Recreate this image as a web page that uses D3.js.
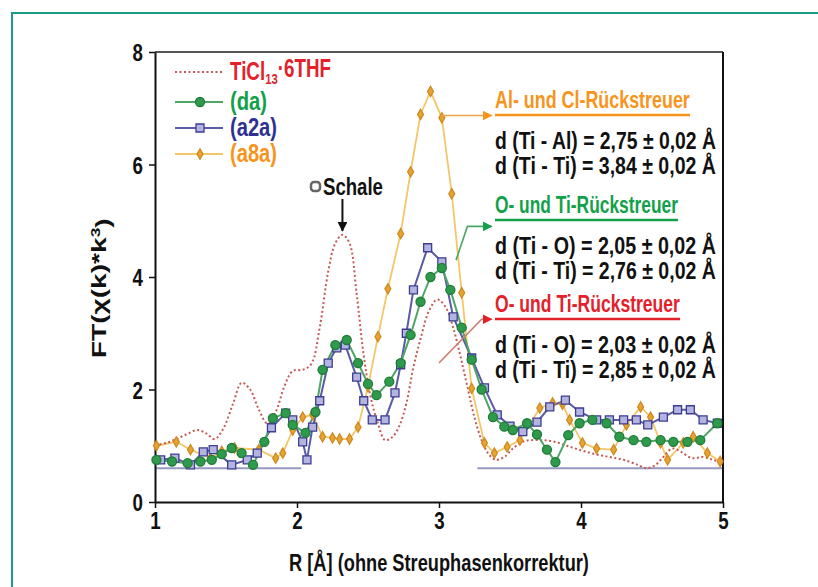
<!DOCTYPE html>
<html lang="de">
<head>
<meta charset="UTF-8">
<title>FT(χ(k)*k³) – Rückstreuer</title>
<script src="https://d3js.org/d3.v7.min.js"></script>
<style>
  body { margin: 0; background: #fff; }
  svg text { font-family: "Liberation Sans", Arial, "DejaVu Sans", sans-serif; font-weight: bold; }
  .tick text { font-size: 24px; fill: #111; }
</style>
</head>
<body>
<div id="chart"></div>
<script>
// ---- data ----
const xTicks = [1, 2, 3, 4, 5];
const yTicks = [0, 2, 4, 6, 8];

// TiCl13·6THF (dotted, no markers)
const ticlR = [1.00,1.08,1.15,1.22,1.30,1.36,1.42,1.48,1.55,1.61,1.67,1.73,1.79,1.85,1.91,1.97,2.04,2.10,2.16,2.22,2.27,2.32,2.37,2.42,2.47,2.52,2.57,2.62,2.67,2.72,2.77,2.82,2.87,2.93,2.99,3.05,3.10,3.15,3.20,3.25,3.30,3.35,3.40,3.46,3.52,3.60,3.70,3.80,3.90,4.00,4.10,4.20,4.30,4.40,4.46,4.52,4.58,4.64,4.70,4.78,4.86,4.93,5.00];
const ticlFT = [1.01,1.05,1.12,1.2,1.28,1.22,1.12,1.3,1.75,2.12,2.0,1.65,1.4,1.6,2.05,2.33,2.35,2.45,3.1,4.1,4.6,4.75,4.6,3.7,2.6,1.85,1.4,1.1,1.15,1.35,1.75,2.4,2.9,3.4,3.6,3.45,3.1,2.6,2.05,1.5,1.1,0.85,0.75,0.8,0.95,1.08,1.1,1.08,1.0,0.92,0.85,0.8,0.75,0.66,0.6,0.65,0.8,0.95,0.9,0.78,0.8,0.75,0.7];

// (da)
const daR = [1.01,1.12,1.23,1.32,1.40,1.47,1.54,1.61,1.69,1.77,1.83,1.92,1.97,2.06,2.13,2.18,2.27,2.35,2.43,2.50,2.56,2.65,2.73,2.80,2.87,2.94,3.02,3.08,3.16,3.23,3.30,3.38,3.46,3.52,3.62,3.69,3.76,3.82,3.91,3.99,4.08,4.18,4.27,4.37,4.46,4.56,4.65,4.75,4.84,4.96];
const daFT = [0.75,0.72,0.69,0.72,0.75,0.85,0.96,0.87,0.66,1.07,1.49,1.58,1.37,1.23,1.6,2.35,2.79,2.88,2.47,2.1,1.9,2.14,2.47,2.97,3.56,4.0,4.16,3.77,3.1,2.53,2.0,1.51,1.34,1.28,1.4,1.2,0.93,0.71,1.19,1.4,1.46,1.4,1.16,1.1,1.07,1.1,1.07,1.07,1.1,1.4];

// (a2a)
const a2aR = [1.04,1.14,1.25,1.34,1.41,1.54,1.65,1.72,1.82,1.92,1.97,2.04,2.07,2.11,2.16,2.22,2.28,2.34,2.42,2.47,2.53,2.62,2.69,2.73,2.77,2.82,2.92,3.02,3.10,3.23,3.32,3.41,3.50,3.59,3.69,3.78,3.89,3.99,4.11,4.20,4.30,4.39,4.47,4.58,4.68,4.77,4.86,4.96];
const a2aFT = [0.75,0.78,0.66,0.89,0.93,0.66,0.75,0.87,1.32,1.58,1.46,1.07,0.75,1.33,1.8,2.47,2.74,2.79,2.22,1.8,1.46,1.46,1.94,2.44,3.0,3.77,4.52,4.27,3.29,2.56,2.03,1.55,1.35,1.25,1.42,1.69,1.81,1.6,1.46,1.46,1.46,1.46,1.37,1.51,1.64,1.64,1.46,1.4];

// (a8a)
const a8aR = [1.01,1.15,1.25,1.39,1.47,1.56,1.73,1.85,1.90,1.97,2.04,2.11,2.18,2.25,2.30,2.37,2.43,2.50,2.57,2.64,2.73,2.80,2.87,2.94,3.02,3.09,3.16,3.23,3.32,3.39,3.48,3.57,3.71,3.80,3.87,3.92,4.01,4.11,4.23,4.32,4.42,4.49,4.56,4.61,4.72,4.79,4.89,4.98];
const a8aFT = [1.0,1.07,0.93,0.78,0.9,0.96,0.93,0.78,0.87,1.28,1.51,1.55,1.16,1.14,1.12,1.12,1.33,2.05,2.94,3.79,4.77,5.87,6.89,7.3,6.83,5.48,3.72,2.02,1.05,0.87,0.98,1.1,1.67,1.76,1.74,1.46,1.05,0.95,0.93,1.37,1.69,1.51,1.05,0.75,1.05,1.16,0.87,0.72];

// leader lines (data coordinates): [R, FT] points, last one is the arrow tip
const leaderAl = [[3.02, 6.87], [3.37, 6.87]];
const leaderDa = [[3.12, 4.3], [3.2, 4.9], [3.37, 4.9]];
const leaderTi = [[3.0, 2.47], [3.3, 3.25], [3.37, 3.25]];
const schaleAt = [2.32, 4.75];

// ---- layout ----
const W = 818, H = 587;
const margin = {top: 52, right: 95, bottom: 85, left: 155};

const svg = d3.select("#chart").append("svg")
  .attr("width", W).attr("height", H);

// squeeze text horizontally to a target width (the original uses a condensed face)
function fitWidth(sel, w) {
  sel.each(function () {
    const el = d3.select(this);
    const nat = this.getBBox().width;
    const k = w / nat;
    const ax = +el.attr("x") || 0;
    const pre = el.attr("transform") || "";
    el.attr("transform", `${pre} translate(${ax},0) scale(${k},1) translate(${-ax},0)`);
  });
}
function squeeze(sel, k) {
  sel.each(function () {
    const el = d3.select(this);
    const ax = +el.attr("x") || 0;
    const pre = el.attr("transform") || "";
    el.attr("transform", `${pre} translate(${ax},0) scale(${k},1) translate(${-ax},0)`);
  });
}

// teal page frame
svg.append("rect")
  .attr("x", 12).attr("y", 13)
  .attr("width", W).attr("height", H)
  .attr("fill", "none").attr("stroke", "#1b998b").attr("stroke-width", 2);

const x = d3.scaleLinear().domain([1, 5]).range([margin.left, W - margin.right]);
const y = d3.scaleLinear().domain([0, 8]).range([H - margin.bottom, margin.top]);

const colRed = "#c45a55", colGreen = "#2f9a4c", colBlue = "#3d3d91";

// faint baseline of the original plot
const base = svg.append("g").attr("stroke", "#9797c0").attr("stroke-width", 2);
[[1, 2.03], [3.27, 5]].forEach(s => {
  base.append("line")
    .attr("x1", x(s[0])).attr("x2", x(s[1]))
    .attr("y1", y(0.6)).attr("y2", y(0.6));
});

// frame top / right
svg.append("line")
  .attr("x1", x(1)).attr("x2", x(5)).attr("y1", y(8)).attr("y2", y(8))
  .attr("stroke", "#555").attr("stroke-width", 2);
svg.append("line")
  .attr("x1", x(5)).attr("x2", x(5)).attr("y1", y(8)).attr("y2", y(0))
  .attr("stroke", "#111").attr("stroke-width", 2);

// axes
const xAxis = svg.append("g")
  .attr("transform", `translate(0,${y(0)})`)
  .call(d3.axisBottom(x).tickValues(xTicks).tickFormat(d3.format("d")).tickSize(6).tickSizeOuter(0).tickPadding(4));
const yAxis = svg.append("g")
  .attr("transform", `translate(${x(1)},0)`)
  .call(d3.axisLeft(y).tickValues(yTicks).tickFormat(d3.format("d")).tickSize(6).tickSizeOuter(0).tickPadding(6));
[xAxis, yAxis].forEach(a => {
  a.select(".domain").attr("stroke", "#111").attr("stroke-width", 2);
  a.selectAll(".tick line").attr("stroke", "#111").attr("stroke-width", 1.5);
  squeeze(a.selectAll(".tick text"), 0.78);
});
yAxis.selectAll(".tick text").attr("dy", "0.36em");

// axis titles
svg.append("text")
  .attr("x", x(3)).attr("y", 571)
  .attr("text-anchor", "middle")
  .style("font-size", "23px").attr("fill", "#111")
  .text("R [Å] (ohne Streuphasenkorrektur)")
  .call(fitWidth, 300);

const yt = svg.append("text")
  .attr("transform", `translate(106,${y(3.8)}) rotate(-90)`)
  .attr("text-anchor", "middle")
  .style("font-size", "21px").attr("fill", "#111");
yt.append("tspan").text("FT(χ(k)*k");
yt.append("tspan").attr("dy", "-0.45em").style("font-size", "13px").text("3");
yt.append("tspan").attr("dy", "0.45em").text(")");
fitWidth(yt, 140);

// series
const lineGen = d3.line().x(d => x(d[0])).y(d => y(d[1]));
const zip = (a, b) => a.map((v, i) => [v, b[i]]);

const ticl = zip(ticlR, ticlFT), da = zip(daR, daFT), a2a = zip(a2aR, a2aFT), a8a = zip(a8aR, a8aFT);

svg.append("path").datum(a8a)
  .attr("d", lineGen).attr("fill", "none")
  .attr("stroke", "#f3c768").attr("stroke-width", 1.8);
svg.append("path").datum(ticl)
  .attr("d", lineGen.curve(d3.curveCatmullRom)).attr("fill", "none")
  .attr("stroke", colRed).attr("stroke-width", 2).attr("stroke-dasharray", "2,2.5");
lineGen.curve(d3.curveLinear);
svg.append("path").datum(a2a)
  .attr("d", lineGen).attr("fill", "none")
  .attr("stroke", "#5a5aa6").attr("stroke-width", 2);
svg.append("path").datum(da)
  .attr("d", lineGen).attr("fill", "none")
  .attr("stroke", "#4ea564").attr("stroke-width", 2);

const sym = d3.symbol();
const markers = {
  a8a: {type: d3.symbolDiamond, size: 30, fill: "#e4a534", stroke: "#d08a20"},
  a2a: {type: d3.symbolSquare, size: 64, fill: "#b4b4e0", stroke: colBlue},
  da:  {type: d3.symbolCircle, size: 64, fill: colGreen, stroke: "#1f7d38"}
};
function drawMarkers(data, m) {
  svg.append("g").selectAll("path").data(data).join("path")
    .attr("transform", d => `translate(${x(d[0])},${y(d[1])})`)
    .attr("d", sym.type(m.type).size(m.size)())
    .attr("fill", m.fill).attr("stroke", m.stroke).attr("stroke-width", 1.3);
}
drawMarkers(a8a, markers.a8a);
drawMarkers(a2a, markers.a2a);
drawMarkers(da, markers.da);

// legend
const legendItems = [
  {key: "ticl", color: "#e3212b", lineColor: colRed, dash: "2,2.5", y: 72, w: 101},
  {key: "da", label: "(da)", color: "#13a04a", lineColor: "#4ea564", m: markers.da, y: 102, w: 37},
  {key: "a2a", label: "(a2a)", color: "#2e3192", lineColor: "#5a5aa6", m: markers.a2a, y: 128, w: 47},
  {key: "a8a", label: "(a8a)", color: "#f7941d", lineColor: "#f3c768", m: markers.a8a, y: 154, w: 47}
];
legendItems.forEach(it => {
  svg.append("line")
    .attr("x1", 175).attr("x2", 223).attr("y1", it.y).attr("y2", it.y)
    .attr("stroke", it.lineColor).attr("stroke-width", 2)
    .attr("stroke-dasharray", it.dash || null);
  if (it.m) {
    svg.append("path")
      .attr("transform", `translate(200,${it.y})`)
      .attr("d", sym.type(it.m.type).size(it.m.size)())
      .attr("fill", it.m.fill).attr("stroke", it.m.stroke).attr("stroke-width", 1.3);
  }
  const t = svg.append("text")
    .attr("x", 230).attr("y", it.y + 8)
    .style("font-size", "25px").attr("fill", it.color);
  if (it.key === "ticl") {
    t.append("tspan").text("TiCl");
    t.append("tspan").attr("dy", "0.3em").style("font-size", "15px").text("13");
    t.append("tspan").attr("dy", "-0.3em").text("·6THF");
  } else {
    t.text(it.label);
  }
  fitWidth(t, it.w);
});

// "Schale" marker
svg.append("rect").attr("x", 311).attr("y", 182).attr("width", 9).attr("height", 9).attr("rx", 3)
  .attr("fill", "#fff").attr("stroke", "#666").attr("stroke-width", 2.5);
svg.append("text").attr("x", 323).attr("y", 195)
  .style("font-size", "23px").attr("fill", "#111").text("Schale")
  .call(fitWidth, 60);

// arrowheads
const defs = svg.append("defs");
[["arrOrange", "#f7941d"], ["arrGreen", "#13a04a"], ["arrRed", "#e3212b"], ["arrBlack", "#111"]].forEach(([id, c]) => {
  defs.append("marker").attr("id", id)
    .attr("viewBox", "0 0 10 10").attr("refX", 9).attr("refY", 5)
    .attr("markerWidth", 10).attr("markerHeight", 10).attr("markerUnits", "userSpaceOnUse")
    .attr("orient", "auto")
    .append("path").attr("d", "M0,0L10,5L0,10Z").attr("fill", c);
});

svg.append("line")
  .attr("x1", x(schaleAt[0])).attr("x2", x(schaleAt[0]))
  .attr("y1", 199).attr("y2", y(schaleAt[1]) - 4)
  .attr("stroke", "#111").attr("stroke-width", 2)
  .attr("marker-end", "url(#arrBlack)");

const leader = d3.line().x(d => x(d[0])).y(d => y(d[1]));
[[leaderAl, "#eda24a", "arrOrange"], [leaderDa, "#4ea564", "arrGreen"], [leaderTi, "#d27a6e", "arrRed"]].forEach(([pts, c, m]) => {
  svg.append("path").datum(pts)
    .attr("d", leader).attr("fill", "none")
    .attr("stroke", c).attr("stroke-width", 1.6)
    .attr("marker-end", `url(#${m})`);
});

// annotation blocks
const blocks = [
  {title: "Al- und Cl-Rückstreuer", color: "#f7941d", ty: 108, tw: 195,
   lines: ["d (Ti - Al) = 2,75 ± 0,02 Å", "d (Ti - Ti) = 3,84 ± 0,02 Å"]},
  {title: "O- und Ti-Rückstreuer", color: "#13a04a", ty: 213, tw: 183,
   lines: ["d (Ti - O) = 2,05 ± 0,02 Å", "d (Ti - Ti) = 2,76 ± 0,02 Å"]},
  {title: "O- und Ti-Rückstreuer", color: "#e3212b", ty: 312, tw: 185,
   lines: ["d (Ti - O) = 2,03 ± 0,02 Å", "d (Ti - Ti) = 2,85 ± 0,02 Å"]}
];
const bx = 495;
blocks.forEach(b => {
  svg.append("text").attr("x", bx).attr("y", b.ty)
    .style("font-size", "24px").attr("fill", b.color)
    .text(b.title)
    .call(fitWidth, b.tw);
  svg.append("line")
    .attr("x1", bx).attr("x2", bx + b.tw).attr("y1", b.ty + 7).attr("y2", b.ty + 7)
    .attr("stroke", b.color).attr("stroke-width", 2.5);
  b.lines.forEach((l, i) => {
    svg.append("text").attr("x", bx).attr("y", b.ty + 41 + i * 25)
      .style("font-size", "24px").attr("fill", "#111")
      .text(l)
      .call(fitWidth, 221);
  });
});
</script>
</body>
</html>
